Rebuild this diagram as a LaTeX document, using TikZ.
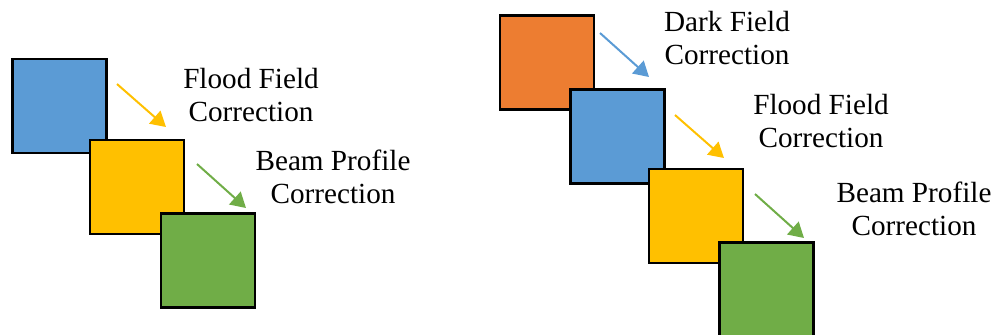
\documentclass[tikz,border=0pt]{standalone}
\usepackage{fontspec}
\setmainfont{Liberation Serif}
\usetikzlibrary{arrows.meta,positioning}

\definecolor{cblue}{HTML}{5B9BD5}
\definecolor{corange}{HTML}{ED7D31}
\definecolor{cyel}{HTML}{FFC000}
\definecolor{cgreen}{HTML}{70AD47}

\begin{document}
\begin{tikzpicture}[x=0.5pt,y=-0.5pt,
>={Triangle[length=7.5pt,width=8.5pt]},
line width=1pt]

\tikzstyle{sq}=[rectangle, draw=black, line width=1.1pt, minimum size=47pt, inner sep=0pt]
\tikzstyle{lbl}=[font=\fontsize{14.6}{16.5}\selectfont, align=center, inner sep=0pt]

\useasboundingbox (0,0) rectangle (995,334);

%left set
\node[sq, fill=cblue] (b1) at (59.5,106) {};
\node[sq, fill=cyel] (y1) at (137,187) {};
\node[sq, fill=cgreen] (g1) at (208,260.5) {};

\coordinate (a1s) at (117,84);
\coordinate (a1e) at (166,127);
\coordinate (a2s) at (197,164);
\coordinate (a2e) at (246,208);

\draw[->, cyel] (a1s) -- (a1e);
\draw[->, cgreen] (a2s) -- (a2e);

\node[lbl] (t1) at (251,95.5) {Flood Field\\Correction};
\node[lbl] (t2) at (333,177) {Beam Profile\\Correction};

%right set
\node[sq, fill=corange] (o2) at (547,62.5) {};
\node[sq, fill=cblue] (b2) at (617.5,136.5) {};
\node[sq, fill=cyel] (y2) at (696,216) {};
\node[sq, fill=cgreen] (g2) at (766.5,289.5) {};

\coordinate (a3s) at (600,33);
\coordinate (a3e) at (649,77);
\coordinate (a4s) at (675,115);
\coordinate (a4e) at (724,158);
\coordinate (a5s) at (755,194);
\coordinate (a5e) at (804,238);

\draw[->, cblue] (a3s) -- (a3e);
\draw[->, cyel] (a4s) -- (a4e);
\draw[->, cgreen] (a5s) -- (a5e);

\node[lbl] (t3) at (727,38.5) {Dark Field\\Correction};
\node[lbl] (t4) at (821,121) {Flood Field\\Correction};
\node[lbl] (t5) at (914,208.5) {Beam Profile\\Correction};

\end{tikzpicture}
\end{document}
